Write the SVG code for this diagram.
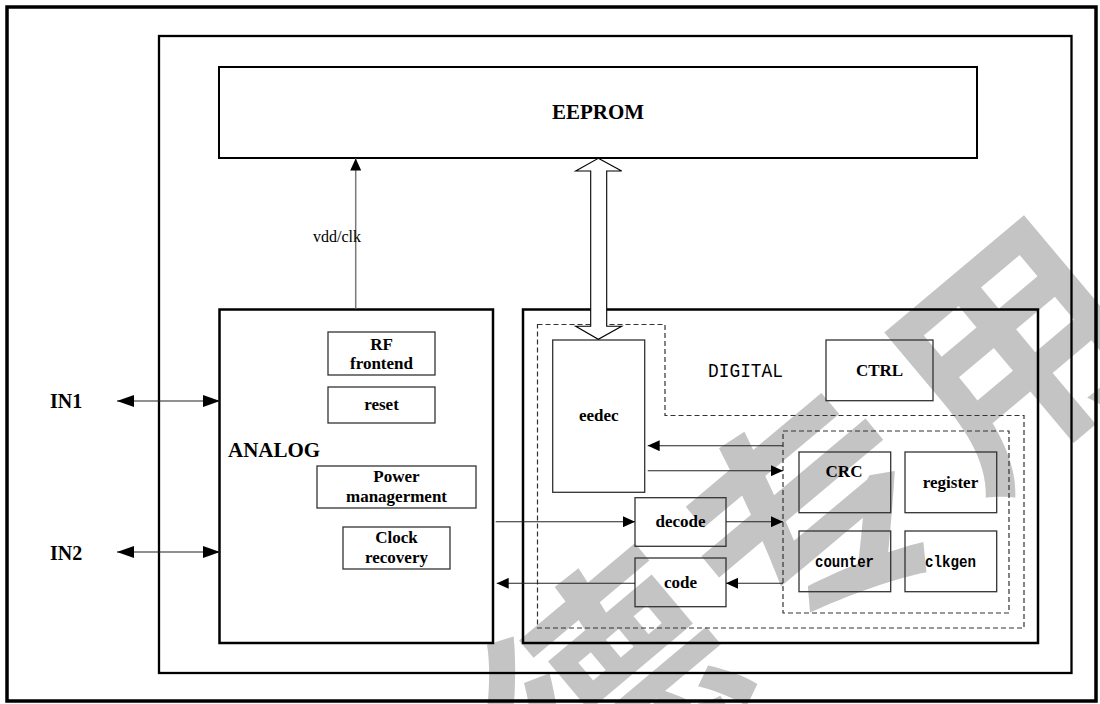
<svg xmlns="http://www.w3.org/2000/svg" width="1100" height="704" viewBox="0 0 1100 704">
<style>
.frame{fill:none;stroke:#000}
.box{fill:none;stroke:#333;stroke-width:1.3}
.dash{fill:none;stroke:#333;stroke-width:1.2;stroke-dasharray:5 3}
.lbl{font-family:"Liberation Serif","Times New Roman",serif;font-weight:bold;font-size:17px;fill:#000;text-anchor:middle}
.big{font-size:21px}
.in{font-size:20px;text-anchor:start}
.start{text-anchor:start}
.mono{font-family:"Liberation Mono","Courier New",monospace;fill:#000;text-anchor:middle}
.conn{fill:none;stroke:#222;stroke-width:1.1}
.wm{font-family:"Noto Sans CJK SC","Noto Sans CJK JP",sans-serif;font-weight:bold;fill:#c4c4c4;font-size:240px;text-anchor:middle}
</style>
<defs>
<marker id="ah" viewBox="0 0 12 11" refX="12" refY="5.5" markerWidth="12" markerHeight="11" markerUnits="userSpaceOnUse" orient="auto-start-reverse"><path d="M0,0 L12,5.5 L0,11 z" fill="#000"/></marker>
<marker id="ahL" viewBox="0 0 17 12" refX="17" refY="6" markerWidth="17" markerHeight="12" markerUnits="userSpaceOnUse" orient="auto-start-reverse"><path d="M0,0 L17,6 L0,12 z" fill="#000"/></marker>
</defs>
<rect width="1100" height="704" fill="#fff"/>
<g id="watermark">
<text class="wm" letter-spacing="22" transform="translate(822,515) rotate(-40)" x="0" y="88">德专用</text>
</g>
<g id="outer-frame"><rect class="frame" x="7" y="7" width="1089" height="694" stroke-width="3.5"/></g>
<g id="chip-frame"><rect class="frame" x="159" y="36" width="912.5" height="637" stroke-width="2.3"/></g>
<g id="eeprom">
<rect class="frame" x="219" y="67" width="758" height="91" stroke-width="2"/>
<text class="lbl big" x="598" y="119">EEPROM</text>
</g>
<g id="analog">
<rect class="frame" x="219.5" y="309.5" width="273.5" height="333.5" stroke-width="2.5"/>
<text class="lbl big start" x="228" y="457">ANALOG</text>
</g>
<g id="rf-frontend"><rect class="box" x="328" y="332" width="107" height="43"/><text class="lbl" x="381.5" y="350">RF</text><text class="lbl" x="381.5" y="369">frontend</text></g>
<g id="reset"><rect class="box" x="328" y="387" width="107" height="36"/><text class="lbl" x="381.5" y="410">reset</text></g>
<g id="power"><rect class="box" x="317" y="466" width="159" height="42"/><text class="lbl" x="396.5" y="482">Power</text><text class="lbl" x="396.5" y="502">managerment</text></g>
<g id="clock-recovery"><rect class="box" x="343" y="527" width="107" height="42"/><text class="lbl" x="396.5" y="543">Clock</text><text class="lbl" x="396.5" y="563">recovery</text></g>
<g id="in1"><text class="lbl in" x="50" y="408">IN1</text></g>
<g id="in2"><text class="lbl in" x="50" y="560">IN2</text></g>
<g id="digital">
<rect class="frame" x="523" y="309.5" width="515" height="333.5" stroke-width="2.5"/>
<text class="mono" x="745.5" y="377" font-size="21" textLength="75" lengthAdjust="spacingAndGlyphs">DIGITAL</text>
</g>
<g id="digital-core"><path class="dash" d="M537.5,324.5 H665 V415.5 H1024 V628 H537.5 Z"/></g>
<g id="datapath"><rect class="dash" x="783" y="431" width="226" height="182"/></g>
<g id="ctrl"><rect class="box" x="826" y="340" width="107" height="60.7"/><text class="lbl" x="879.5" y="376">CTRL</text></g>
<g id="eedec"><rect class="box" x="552.7" y="340" width="92" height="152.3"/><text class="lbl" x="598.7" y="421">eedec</text></g>
<g id="decode"><rect class="box" x="635" y="497.7" width="91" height="48.6"/><text class="lbl" x="680.5" y="527">decode</text></g>
<g id="code"><rect class="box" x="635" y="558" width="91" height="48.7"/><text class="lbl" x="680.5" y="588">code</text></g>
<g id="crc"><rect class="box" x="799" y="452" width="91.7" height="60.7"/><text class="lbl" x="844" y="477">CRC</text></g>
<g id="register"><rect class="box" x="905" y="452" width="91.7" height="60.7"/><text class="lbl" x="950.5" y="488">register</text></g>
<g id="counter"><rect class="box" x="799" y="531" width="91.7" height="60.7"/><text class="mono" x="844.5" y="567" font-size="17" font-weight="bold" textLength="59" lengthAdjust="spacingAndGlyphs">counter</text></g>
<g id="clkgen"><rect class="box" x="905" y="531" width="91.7" height="60.7"/><text class="mono" x="950.5" y="567" font-size="17" font-weight="bold" textLength="51" lengthAdjust="spacingAndGlyphs">clkgen</text></g>
<g id="connectors">
<path d="M355.7,308.5 V158.5" fill="none" stroke="#7a7a7a" stroke-width="1.5" marker-end="url(#ah)"/>
<text x="313" y="242" font-family="Liberation Serif,Times New Roman,serif" font-size="16" fill="#000">vdd/clk</text>
<path class="conn" d="M117,401 H220" marker-start="url(#ahL)" marker-end="url(#ahL)"/>
<path class="conn" d="M117,552 H220" marker-start="url(#ahL)" marker-end="url(#ahL)"/>
<path class="conn" d="M783,445.7 H647.7" marker-end="url(#ah)"/>
<path class="conn" d="M647.7,470.7 H783" marker-end="url(#ah)"/>
<path class="conn" d="M495.7,521.7 H635" marker-end="url(#ah)"/>
<path class="conn" d="M726,521.7 H783" marker-end="url(#ah)"/>
<path class="conn" d="M635,583.3 H496.7" marker-end="url(#ah)"/>
<path class="conn" d="M783,583.3 H726" marker-end="url(#ah)"/>
<polygon points="598.3,158.3 621.7,171 606.7,171 606.7,326.3 621.7,326.3 598.3,339.3 575.7,326.3 590.7,326.3 590.7,171 575.7,171" fill="#fff" stroke="#000" stroke-width="1.1"/>
</g>
</svg>
